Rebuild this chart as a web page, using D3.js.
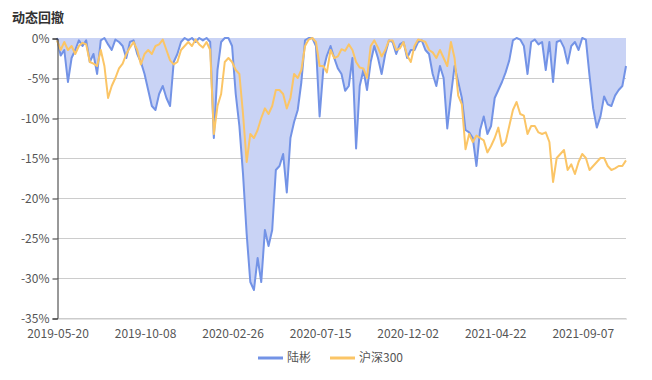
<!DOCTYPE html>
<html><head><meta charset="utf-8">
<script src="https://cdn.jsdelivr.net/npm/d3@7"></script>
<style>body{margin:0;background:#fff;font-family:"Noto Sans CJK SC","Noto Sans",sans-serif;}</style>
</head><body><svg id="c" width="652" height="380"></svg>
<script>
const title = "动态回撤";
const seriesNames = ["陆彬", "沪深300"];
const xTickLabels = ["2019-05-20","2019-10-08","2020-02-26","2020-07-15","2020-12-02","2021-04-22","2021-09-07"];
const tickInterval = 24;
const yTicks = [0,-5,-10,-15,-20,-25,-30,-35];
const luBin = [0,-2.2,-1.5,-5.5,-2.5,-1.5,-0.3,-1.0,-0.3,-3.0,-2.0,-4.5,-0.3,0,-0.8,-1.5,-0.2,-0.5,-1.0,-2.5,
-0.5,-0.3,-2.0,-3.0,-4.5,-6.5,-8.5,-9.0,-7.0,-6.0,-7.5,-8.5,-3.0,-2.0,-0.5,0,-0.3,0,-0.5,0,
-0.3,0,-0.5,-12.5,-4.0,-0.5,0,0,-1.0,-7.0,-11.0,-17.0,-24.5,-30.5,-31.5,-27.5,-30.5,-24.0,-26.0,-24.0,
-16.5,-16.0,-14.5,-19.3,-12.5,-10.5,-9.0,-5.5,-0.3,0,0,-1.0,-9.8,-4.0,-2.2,-1.0,-2.5,-3.8,-4.5,-6.6,
-6.0,-2.5,-13.8,-6.0,-4.0,-6.5,-3.0,-1.0,-2.5,-4.5,-2.0,-0.3,-0.5,-2.0,-0.8,-0.5,-2.5,-1.5,-1.5,-0.5,
-0.3,-1.5,-2.0,-4.5,-6.0,-3.5,-5.0,-11.3,-7.2,-3.5,-5.5,-7.5,-11.5,-11.8,-12.5,-16.0,-11.5,-9.8,-12.0,-11.0,
-7.5,-6.5,-5.5,-4.3,-2.8,-0.3,0,-0.2,-1.0,-4.5,-0.5,-0.2,-0.8,-0.5,-4.0,-0.5,-5.5,-0.5,-0.3,-1.2,
-3.2,-1.0,-0.5,-1.5,0,-0.2,-4.7,-8.8,-11.2,-9.8,-7.3,-8.3,-8.5,-7.2,-6.5,-6.0,-3.5];
const hs300 = [-0.3,-1.5,-0.5,-1.5,-1.0,-2.0,-1.0,-0.6,-0.8,-3.0,-3.2,-3.5,-1.5,-3.5,-7.5,-6.0,-5.0,-3.8,-3.2,-2.0,
-1.2,-0.5,-1.5,-3.3,-2.0,-1.5,-2.0,-1.0,-0.8,-0.2,-1.5,-2.8,-3.3,-3.0,-1.5,-1.0,-0.5,-1.0,-0.2,-0.8,
-1.2,-0.5,-1.5,-12.0,-8.5,-7.0,-3.0,-2.5,-3.0,-4.0,-4.5,-9.5,-15.5,-12.0,-12.5,-11.5,-10.0,-8.8,-9.5,-8.5,
-6.5,-6.5,-7.0,-8.8,-7.5,-4.5,-5.0,-4.0,-1.0,-0.2,0,-0.5,-3.5,-3.5,-4.3,-1.5,-2.5,-2.3,-1.4,-1.6,
-0.8,-1.5,-3.0,-3.7,-3.8,-5.0,-1.0,-0.3,-1.2,-2.3,-1.5,-0.3,-0.3,-1.5,-1.3,-0.5,-2.2,-3.0,-1.0,-0.2,
-0.3,-0.5,-1.5,-1.8,-2.5,-1.5,-2.5,-3.5,-0.5,-2.5,-7.2,-8.3,-13.9,-12.0,-13.0,-12.2,-12.5,-12.8,-14.3,-13.5,
-12.5,-11.2,-13.5,-13.0,-11.0,-9.0,-8.0,-9.5,-9.7,-12.0,-11.0,-11.0,-11.8,-12.0,-11.8,-13.0,-18.0,-15.0,-14.5,-14.0,
-16.5,-15.8,-17.0,-15.5,-14.5,-15.0,-16.5,-16.0,-15.5,-15.0,-15.0,-16.0,-16.5,-16.3,-16.0,-16.0,-15.3];

const svg = d3.select("#c");
const m = {l:57, r:26, t:38, b:62};
const W = 652, H = 380;
const x = d3.scaleLinear().domain([0, luBin.length-1]).range([m.l, W-m.r]);
const y = d3.scaleLinear().domain([0,-35]).range([m.t, H-m.b]);
const font = '"Noto Sans CJK SC","Noto Sans",sans-serif';

svg.append("text").attr("x",12).attr("y",22).text(title)
  .attr("font-size",13).attr("font-weight","bold").attr("fill","#333").attr("font-family",font);

// grid
svg.append("g").selectAll("line").data(yTicks).join("line")
  .attr("x1",m.l).attr("x2",W-m.r).attr("y1",d=>y(d)+0.5).attr("y2",d=>y(d)+0.5)
  .attr("stroke",d=>d===0?"#aaa":"#ccc").attr("stroke-width",1);

const area = d3.area().x((d,i)=>x(i)).y0(y(0)).y1(d=>y(d));
const line = d3.line().x((d,i)=>x(i)).y(d=>y(d));
svg.append("path").datum(luBin).attr("d",area).attr("fill","#c9d3f5");
svg.append("path").datum(luBin).attr("d",line).attr("fill","none").attr("stroke","#7393e6").attr("stroke-width",2).attr("stroke-linejoin","round");
svg.append("path").datum(hs300).attr("d",line).attr("fill","none").attr("stroke","#fbc566").attr("stroke-width",2).attr("stroke-linejoin","round");

// y axis
const yAxis = d3.axisLeft(y).tickValues(yTicks).tickFormat(d=>d+"%").tickSize(5).tickPadding(3);
const gy = svg.append("g").attr("transform",`translate(${m.l+0.5},0.5)`).call(yAxis);
gy.select(".domain").attr("stroke","#333");
gy.selectAll(".tick line").attr("stroke","#333");
gy.selectAll("text").attr("font-size",12).attr("fill","#555").attr("font-family",font);

// x axis
const tickIdx = xTickLabels.map((d,i)=>i*tickInterval);
const xAxis = d3.axisBottom(x).tickValues(tickIdx).tickFormat((d,i)=>xTickLabels[i]).tickSize(0).tickPadding(11);
const gx = svg.append("g").attr("transform",`translate(0.5,${H-m.b+0.5})`).call(xAxis);
gx.select(".domain").attr("stroke","#ccc");
gx.selectAll("text").attr("font-size",12).attr("fill","#555").attr("font-family",font);

// legend
const leg = [{n:seriesNames[0],c:"#7393e6",x:258},{n:seriesNames[1],c:"#fbc566",x:330}];
const lg = svg.append("g");
leg.forEach(d=>{
  lg.append("line").attr("x1",d.x).attr("x2",d.x+25).attr("y1",358).attr("y2",358).attr("stroke",d.c).attr("stroke-width",3);
  lg.append("text").attr("x",d.x+29).attr("y",362).text(d.n).attr("font-size",12).attr("fill","#555").attr("font-family",font);
});
</script></body></html>
